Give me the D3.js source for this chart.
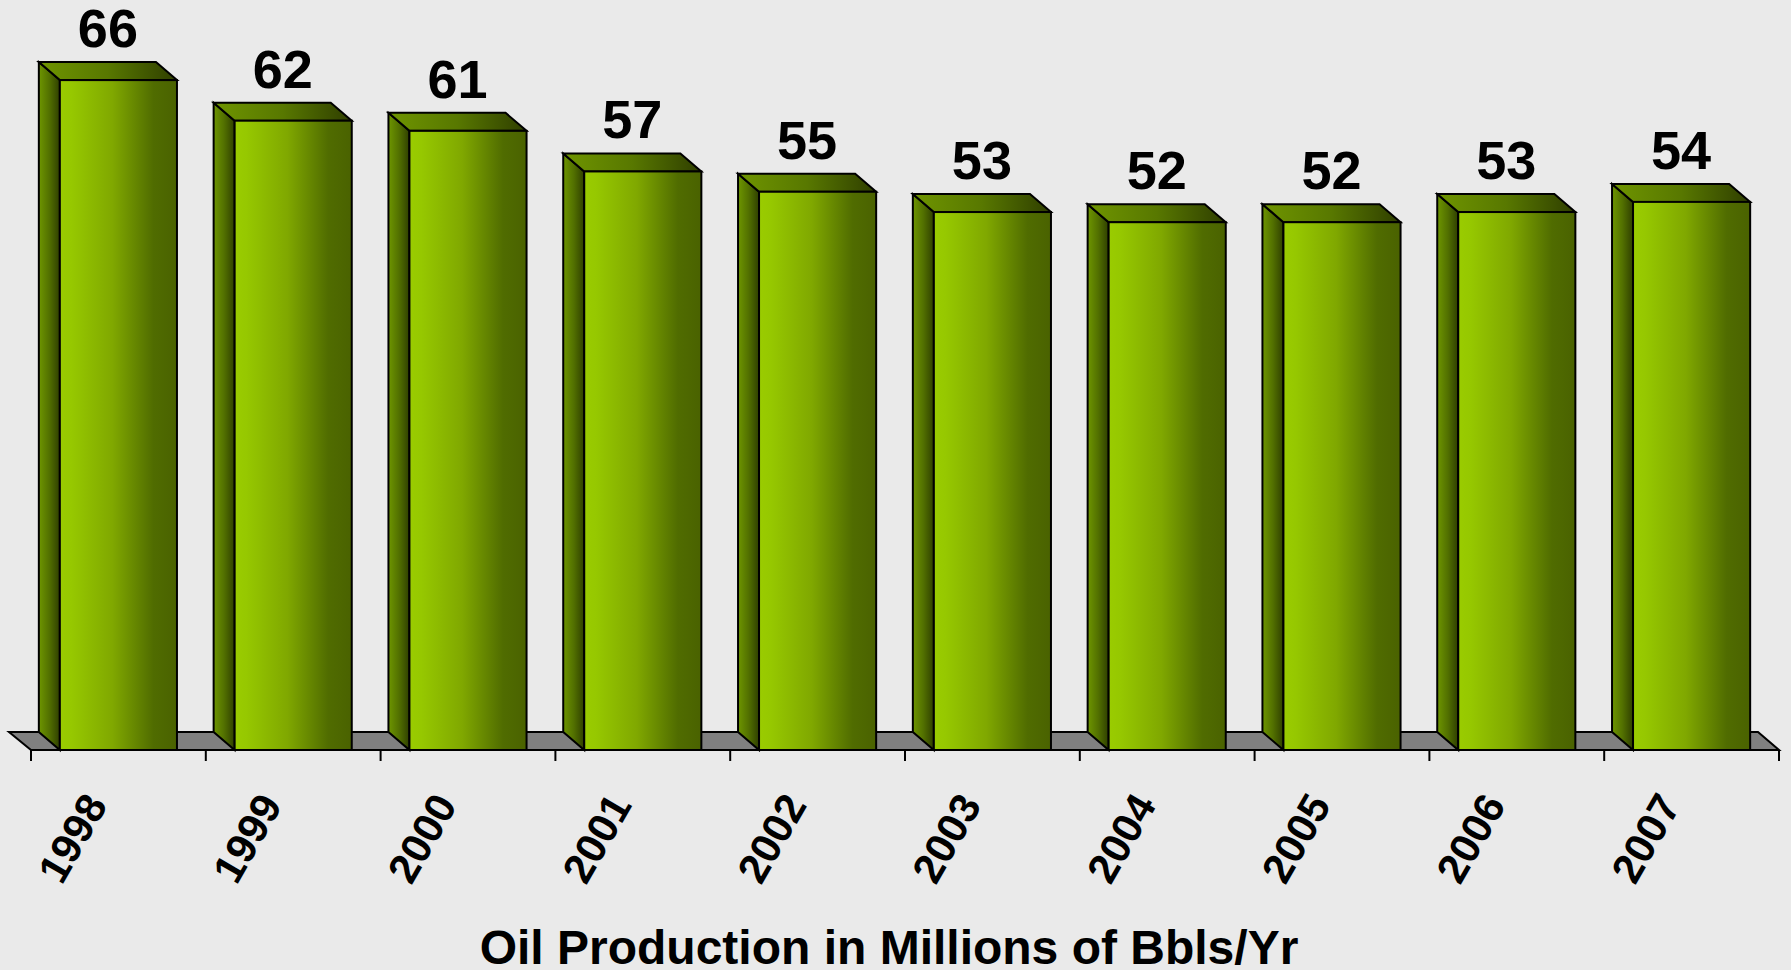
<!DOCTYPE html>
<html>
<head>
<meta charset="utf-8">
<script src="https://cdn.jsdelivr.net/npm/d3@7"></script>
<style>
  body { margin: 0; background: #eaeaea; }
  svg { display: block; }
</style>
</head>
<body>
<div id="chart"></div>
<script>
// data
var years = ["1998", "1999", "2000", "2001", "2002", "2003", "2004", "2005", "2006", "2007"];
var production = [66, 62, 61, 57, 55, 53, 52, 52, 53, 54];
var axisTitle = "Oil Production in Millions of Bbls/Yr";

var width = 1791, height = 970;
var baseY = 750;          // front edge of the floor
var depth = { dx: 21, dy: 18 };
var font = "'Liberation Sans', Arial, Helvetica, sans-serif";

var svg = d3.select("#chart").append("svg")
  .attr("width", width)
  .attr("height", height);

svg.append("rect")
  .attr("width", width)
  .attr("height", height)
  .attr("fill", "#eaeaea");

var defs = svg.append("defs");

function grad(id, stops) {
  var g = defs.append("linearGradient")
    .attr("id", id)
    .attr("x1", "0%").attr("x2", "100%")
    .attr("y1", "0%").attr("y2", "0%");
  stops.forEach(function(s) {
    g.append("stop").attr("offset", s[0]).attr("stop-color", s[1]);
  });
}
grad("frontGrad", [[0, "#9acc00"], [0.1, "#96c800"], [0.45, "#80a800"], [0.8, "#506c00"], [1, "#4a6200"]]);
grad("sideGrad", [[0, "#6e9600"], [0.5, "#527000"], [1, "#2f3f00"]]);
grad("topGrad", [[0, "#6f9500"], [0.5, "#587800"], [1, "#2f3e00"]]);

// scales
var xScale = d3.scaleBand()
  .domain(years)
  .range([31, 1779])
  .paddingInner(0.33)
  .paddingOuter(0.165);

var yScale = d3.scaleLinear()
  .domain([0, 70])
  .range([baseY, baseY - 70 * 10.15]);

var step = xScale.step();
var x0 = xScale.range()[0], x1 = xScale.range()[1];

// floor
var floor = [[x0, baseY], [x1, baseY], [x1 - depth.dx, baseY - depth.dy], [x0 - depth.dx - 1, baseY - depth.dy]];
svg.append("polygon")
  .attr("points", floor.map(function(p) { return p.join(","); }).join(" "))
  .attr("fill", "#808080")
  .attr("stroke", "#000")
  .attr("stroke-width", 2)
  .attr("stroke-linejoin", "miter");

// ticks between categories
var tickPos = d3.range(years.length + 1).map(function(i) { return x0 + i * step; });
svg.selectAll(".tick")
  .data(tickPos)
  .enter().append("line")
  .attr("class", "tick")
  .attr("x1", function(d) { return d; })
  .attr("x2", function(d) { return d; })
  .attr("y1", baseY)
  .attr("y2", baseY + 11)
  .attr("stroke", "#000")
  .attr("stroke-width", 2);

var data = years.map(function(y, i) { return { year: y, value: production[i] }; });

var bar = svg.selectAll(".bar")
  .data(data)
  .enter().append("g")
  .attr("class", "bar");

function pts(arr) { return arr.map(function(p) { return p.join(","); }).join(" "); }

// left side face
bar.append("polygon")
  .attr("points", function(d) {
    var l = xScale(d.year), t = yScale(d.value);
    return pts([[l - depth.dx, t - depth.dy], [l, t], [l, baseY], [l - depth.dx, baseY - depth.dy]]);
  })
  .attr("fill", "url(#sideGrad)")
  .attr("stroke", "#000")
  .attr("stroke-width", 2)
  .attr("stroke-linejoin", "miter");

// top face
bar.append("polygon")
  .attr("points", function(d) {
    var l = xScale(d.year), r = l + xScale.bandwidth(), t = yScale(d.value);
    return pts([[l - depth.dx, t - depth.dy], [r - depth.dx, t - depth.dy], [r, t], [l, t]]);
  })
  .attr("fill", "url(#topGrad)")
  .attr("stroke", "#000")
  .attr("stroke-width", 2)
  .attr("stroke-linejoin", "miter");

// front face
bar.append("rect")
  .attr("x", function(d) { return xScale(d.year); })
  .attr("y", function(d) { return yScale(d.value); })
  .attr("width", xScale.bandwidth())
  .attr("height", function(d) { return baseY - yScale(d.value); })
  .attr("fill", "url(#frontGrad)")
  .attr("stroke", "#000")
  .attr("stroke-width", 2);

// value labels
bar.append("text")
  .attr("x", function(d) { return xScale(d.year) + (xScale.bandwidth() - depth.dx) / 2; })
  .attr("y", function(d) { return yScale(d.value) - depth.dy - 15; })
  .attr("text-anchor", "middle")
  .style("font-family", font)
  .style("font-weight", "bold")
  .style("font-size", "54px")
  .attr("fill", "#000")
  .text(function(d) { return d.value; });

// rotated category labels
svg.selectAll(".year")
  .data(years)
  .enter().append("text")
  .attr("class", "year")
  .attr("transform", function(d) {
    var cx = xScale(d) + xScale.bandwidth() / 2 - 10;
    return "translate(" + cx + "," + 805 + ") rotate(-60)";
  })
  .attr("text-anchor", "end")
  .style("font-family", font)
  .style("font-weight", "bold")
  .style("font-size", "42px")
  .attr("fill", "#000")
  .text(function(d) { return d; });

// axis title
svg.append("text")
  .attr("x", 889)
  .attr("y", 964)
  .attr("text-anchor", "middle")
  .style("font-family", font)
  .style("font-weight", "bold")
  .style("font-size", "48px")
  .attr("fill", "#000")
  .text(axisTitle);
</script>
</body>
</html>
